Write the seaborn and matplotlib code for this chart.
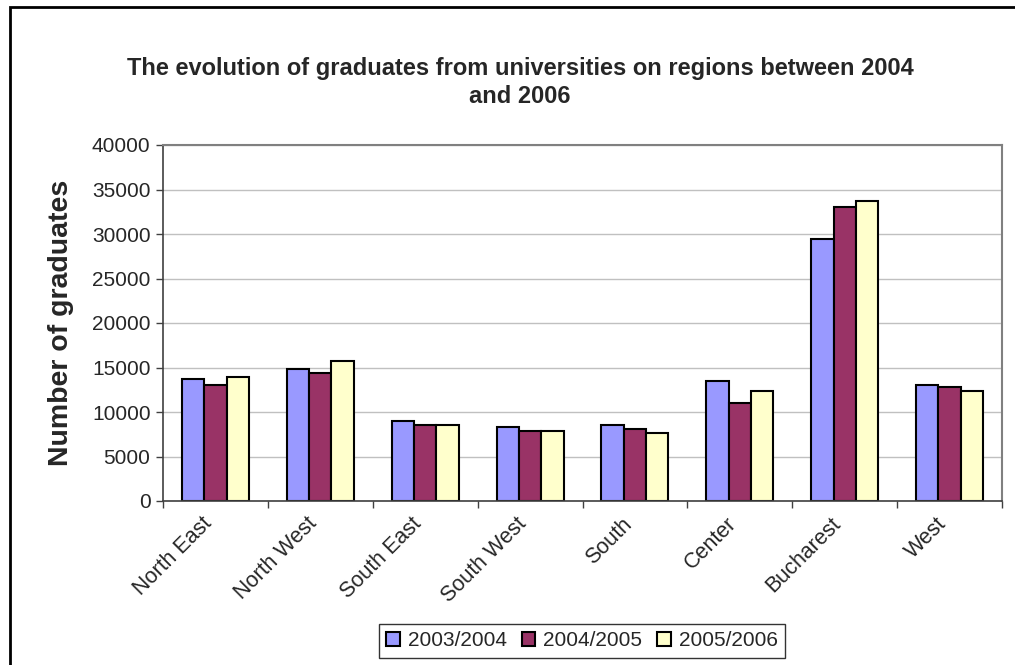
"""
Graduates from universities by region, 2003/2004 - 2005/2006, grouped bar chart
"""

import pandas as pd
import matplotlib.pyplot as plt
import matplotlib.transforms as mtransforms
import seaborn as sns
from matplotlib.patches import Rectangle

# Data
regions = ['North East', 'North West', 'South East', 'South West',
           'South', 'Center', 'Bucharest', 'West']
years = ['2003/2004', '2004/2005', '2005/2006']
grads_2003_2004 = [13700, 14800, 9000, 8300, 8500, 13500, 29400, 13000]
grads_2004_2005 = [13000, 14400, 8500, 7850, 8050, 11000, 33000, 12800]
grads_2005_2006 = [13900, 15700, 8500, 7850, 7600, 12400, 33700, 12400]
colors = ['#9999FF', '#993366', '#FFFFCC']

# Long format table for seaborn
rows = []
for year, values in zip(years, [grads_2003_2004, grads_2004_2005, grads_2005_2006]):
    for region, v in zip(regions, values):
        rows.append({'region': region, 'year': year, 'graduates': v})
df = pd.DataFrame(rows)

sns.set_style("white")
plt.rcParams['font.family'] = ['Liberation Sans', 'DejaVu Sans']

fig = plt.figure(figsize=(10.15, 6.65), dpi=100)
ax = fig.add_axes([163 / 1015, 1 - 501 / 665, 839 / 1015, 356 / 665])

sns.barplot(data=df, x='region', y='graduates', hue='year', order=regions,
            hue_order=years, palette=colors, width=0.64, edgecolor='black',
            linewidth=1.5, saturation=1, ax=ax)

ax.set_xlim(-0.5, len(regions) - 0.5)
ax.set_ylim(0, 40000)
ax.set_yticks(range(0, 40001, 5000))
ax.yaxis.grid(True, color='#c0c0c0', linewidth=1)
ax.set_axisbelow(True)

ax.set_xticks([i - 0.5 for i in range(len(regions) + 1)], minor=True)
ax.tick_params(axis='x', which='major', length=0, pad=9)
ax.tick_params(axis='x', which='minor', length=5, width=1, color='#404040',
               direction='out', bottom=True)
ax.tick_params(axis='y', length=5, width=1, color='#404040', direction='out',
               left=True, labelsize=15, pad=4)
ax.set_xticks(range(len(regions)))
ax.set_xticklabels(regions, rotation=45, ha='right', va='top',
                   rotation_mode='anchor', fontsize=15.5)
shift = mtransforms.ScaledTranslation(-14 / 100, 0, fig.dpi_scale_trans)
for lab in ax.get_xticklabels():
    lab.set_transform(lab.get_transform() + shift)

for side in ['left', 'bottom']:
    ax.spines[side].set_color('#404040')
    ax.spines[side].set_linewidth(1.2)
for side in ['top', 'right']:
    ax.spines[side].set_color('#808080')
    ax.spines[side].set_linewidth(1.5)

ax.set_xlabel('')
ax.set_ylabel('Number of graduates', fontsize=20.5, fontweight='bold', labelpad=13)

fig.text(520 / 1015, 1 - 82.5 / 665,
         'The evolution of graduates from universities on regions between 2004\nand 2006',
         ha='center', va='center', fontsize=17, fontweight='bold', linespacing=1.3)

handles, labels = ax.get_legend_handles_labels()
ax.legend_.remove()
leg = fig.legend(handles, labels, loc='center', ncol=3,
                 bbox_to_anchor=(582 / 1015, 1 - 641 / 665), fontsize=15,
                 frameon=True, fancybox=False, edgecolor='black',
                 handlelength=0.65, handleheight=0.65, handletextpad=0.4,
                 columnspacing=0.7, borderpad=0.35)
leg.get_frame().set_linewidth(1)

# outer chart frame (left and top edges visible)
fig.patches.append(Rectangle((10 / 1015, -0.1), 1.2, 1 - 7 / 665 + 0.1,
                             transform=fig.transFigure, fill=False,
                             edgecolor='black', linewidth=2))

plt.savefig('out.png', dpi=100)
